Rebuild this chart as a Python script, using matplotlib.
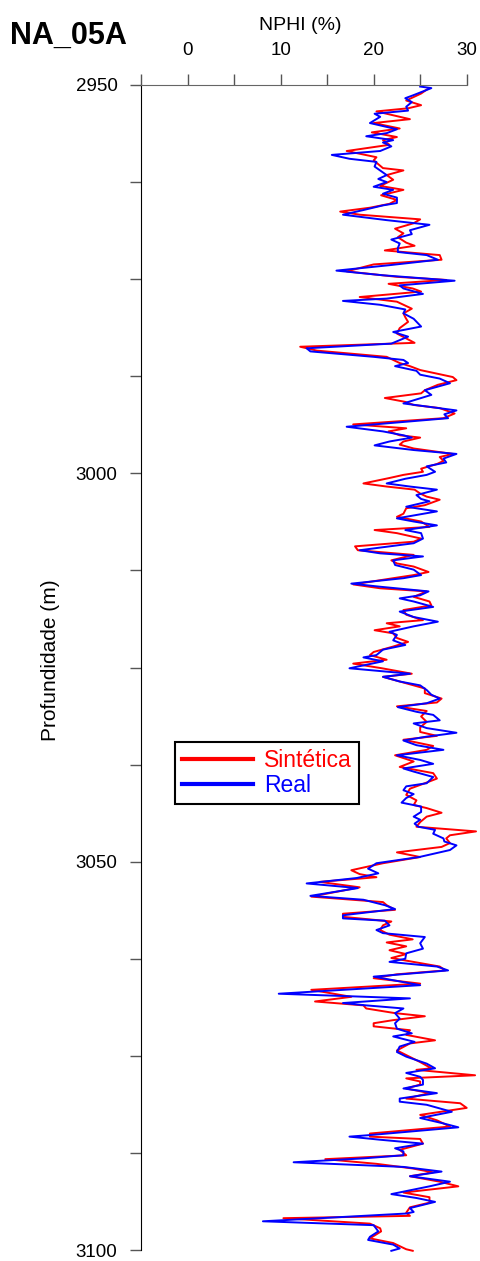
import numpy as np
import matplotlib.pyplot as plt

plt.rcParams['font.family'] = ['Liberation Sans', 'DejaVu Sans']

# (depth m, NPHI %) - measured log
real = np.array([
    (2950.2, 25.0), (2950.4, 26.2), (2951.3, 24.3), (2951.7, 23.4), (2952.2, 24.1),
    (2952.8, 23.5), (2953.3, 23.7), (2953.7, 20.1), (2954.1, 20.7), (2954.9, 19.6),
    (2955.7, 22.5), (2956.2, 21.4), (2956.6, 19.2), (2957.1, 22.1), (2957.4, 21.0),
    (2957.9, 21.9), (2958.5, 20.7), (2959.0, 15.5), (2959.5, 17.4), (2959.9, 20.3),
    (2960.5, 20.1), (2961.0, 20.7), (2961.6, 21.4), (2962.1, 20.5), (2962.5, 21.4),
    (2963.1, 20.0), (2963.5, 22.1), (2964.0, 21.0), (2964.5, 22.5), (2965.2, 22.5),
    (2965.5, 21.0), (2966.1, 18.9), (2966.7, 16.7), (2967.4, 21.4), (2968.0, 26.0),
    (2968.7, 23.9), (2969.2, 24.1), (2969.9, 21.9), (2970.4, 22.8), (2971.0, 22.6),
    (2971.5, 22.6), (2971.9, 25.7), (2972.5, 26.9), (2973.2, 21.7), (2973.9, 16.0),
    (2974.5, 21.0), (2975.2, 28.7), (2975.8, 22.8), (2976.2, 23.2), (2976.9, 25.3),
    (2977.5, 21.4), (2977.8, 16.7), (2978.3, 20.7), (2978.9, 23.4), (2979.4, 23.2),
    (2980.1, 24.3), (2981.1, 25.1), (2981.8, 22.1), (2982.4, 23.7), (2983.3, 21.9),
    (2983.9, 12.8), (2984.3, 13.2), (2985.0, 20.0), (2985.4, 23.2), (2985.8, 23.7),
    (2986.2, 22.3), (2986.8, 24.6), (2987.3, 25.0), (2987.8, 27.1),
    (2988.4, 28.2), (2989.3, 25.5), (2989.9, 26.2), (2990.3, 25.1), (2991.0, 23.2),
    (2991.9, 28.9), (2992.4, 27.6), (2992.9, 28.0), (2994.0, 17.1), (2994.6, 21.0),
    (2995.1, 23.2), (2995.4, 24.1), (2995.9, 21.7), (2996.4, 20.1), (2997.0, 24.3),
    (2997.5, 28.9), (2998.1, 27.5), (2998.6, 27.8), (2999.1, 25.7), (2999.8, 26.6),
    (3000.2, 25.7), (3000.7, 23.4), (3001.3, 21.4), (3001.7, 23.9), (3002.1, 26.8),
    (3002.8, 24.6), (3003.3, 25.1), (3003.6, 26.0), (3004.3, 23.5), (3004.9, 26.8),
    (3005.8, 22.5), (3006.2, 24.3), (3006.7, 26.8), (3007.3, 23.4), (3007.7, 25.1),
    (3008.4, 25.3), (3009.0, 24.3), (3009.9, 18.5), (3010.3, 20.7), (3010.7, 25.3),
    (3011.2, 22.1), (3011.8, 22.3), (3012.4, 24.3), (3013.1, 25.1), (3013.5, 23.2),
    (3014.2, 17.6), (3014.6, 20.7), (3015.2, 25.9), (3015.7, 25.0), (3016.1, 22.8),
    (3016.5, 24.3), (3017.2, 26.4), (3017.8, 22.8), (3018.5, 24.3), (3019.1, 26.9),
    (3019.7, 24.3), (3020.4, 21.7), (3020.8, 22.5), (3021.5, 22.1), (3022.1, 23.4),
    (3022.7, 21.0), (3023.4, 20.3), (3023.7, 18.9), (3024.2, 21.0), (3025.1, 17.4),
    (3025.8, 23.9),
    (3026.2, 21.0), (3026.8, 22.8), (3027.3, 25.0), (3027.9, 25.7), (3028.5, 26.2),
    (3029.0, 27.1), (3029.6, 25.7), (3030.1, 22.6), (3030.7, 24.6), (3031.1, 26.4),
    (3031.8, 27.1), (3032.2, 24.3), (3032.8, 25.7), (3033.4, 28.9), (3033.9, 25.7),
    (3034.4, 23.2), (3035.0, 24.6), (3035.6, 27.5), (3036.3, 22.5), (3036.9, 25.0),
    (3037.4, 26.4), (3038.0, 23.2), (3038.4, 24.3), (3039.1, 26.4), (3039.9, 25.7),
    (3040.3, 23.5), (3040.8, 23.2), (3041.3, 24.3), (3041.8, 23.5), (3042.4, 23.0),
    (3042.9, 25.1), (3043.6, 25.1), (3044.2, 24.3), (3044.6, 25.0), (3045.1, 24.4),
    (3045.5, 24.8), (3045.9, 26.6), (3046.4, 26.4), (3047.0, 27.5), (3047.4, 27.6),
    (3047.9, 28.9), (3048.5, 28.2),
    (3049.4, 24.9), (3050.2, 20.3), (3050.9, 19.4), (3051.5, 20.5), (3052.1, 18.2),
    (3052.8, 12.8), (3053.4, 18.3), (3054.4, 13.2), (3054.9, 18.9), (3055.6, 21.2),
    (3056.1, 22.3), (3056.9, 16.7), (3057.3, 16.7), (3057.6, 21.2), (3058.2, 21.7),
    (3058.8, 20.3), (3059.2, 21.0), (3059.7, 25.5), (3060.5, 25.0), (3061.2, 25.3),
    (3061.8, 23.5), (3062.5, 23.4), (3062.9, 21.7), (3063.5, 26.8), (3064.0, 28.0),
    (3064.8, 20.0), (3065.5, 23.2), (3065.9, 25.0), (3067.0, 9.8), (3067.6, 23.9),
    (3068.2, 16.7), (3068.5, 19.2), (3068.9, 23.2), (3069.5, 22.3), (3070.2, 22.8),
    (3070.8, 22.3), (3071.5, 22.5), (3072.1, 24.1), (3072.5, 22.1), (3073.2, 24.4),
    (3073.8, 22.8), (3074.5, 22.5), (3075.1, 23.5), (3076.0, 25.7), (3076.6, 26.6),
    (3077.2, 23.5), (3077.7, 25.0), (3078.1, 25.3), (3078.7, 25.3), (3079.2, 23.2),
    (3079.8, 26.8), (3080.5, 22.8), (3080.9, 22.8), (3081.3, 25.7), (3082.2, 28.4),
    (3083.0, 25.0), (3083.7, 27.5), (3084.2, 29.1), (3085.2, 19.6), (3085.4, 17.4),
    (3085.8, 20.7), (3086.3, 25.3), (3086.9, 22.3), (3087.3, 23.2), (3087.8, 23.2),
    (3088.2, 18.9), (3088.7, 11.4), (3089.3, 23.2), (3089.9, 27.3), (3090.5, 23.9),
    (3091.2, 28.2), (3091.8, 26.0), (3092.8, 21.9), (3093.3, 24.6), (3093.8, 26.6),
    (3094.6, 23.9), (3095.1, 24.3), (3095.3, 23.5), (3096.3, 8.1), (3096.8, 20.0),
    (3097.6, 20.5), (3098.3, 19.6), (3098.7, 19.4), (3099.3, 22.1), (3099.8, 22.8),
    (3100.1, 21.9),
])

# (depth m, NPHI %) - synthetic log
sintetica = np.array([
    (2950.6, 25.7), (2951.1, 25.1), (2952.0, 23.5), (2952.6, 25.1), (2953.0, 23.7),
    (2953.4, 20.3), (2954.4, 23.9), (2954.9, 20.0), (2955.6, 22.8), (2956.1, 19.8),
    (2956.7, 22.5), (2957.1, 21.0), (2957.7, 21.7), (2958.5, 17.1), (2959.3, 20.3),
    (2959.7, 20.0), (2960.7, 21.0), (2961.0, 23.2), (2961.6, 21.4), (2962.2, 22.1),
    (2963.0, 20.7), (2963.5, 23.2), (2964.2, 20.8), (2964.8, 22.5), (2965.3, 21.7),
    (2965.8, 19.6), (2966.3, 16.4), (2966.7, 18.5), (2967.3, 25.0), (2967.8, 24.3),
    (2968.5, 22.3), (2969.1, 23.2), (2969.6, 22.6), (2970.3, 23.5), (2970.7, 24.4),
    (2971.3, 21.2), (2971.9, 27.1), (2972.5, 27.3), (2973.1, 20.0), (2974.0, 17.1),
    (2974.7, 22.5), (2975.1, 27.8), (2975.6, 21.6), (2976.2, 24.2), (2976.6, 25.1),
    (2977.3, 18.5), (2977.9, 22.5), (2978.8, 24.1), (2979.4, 23.2), (2979.9, 23.4),
    (2980.5, 23.7), (2981.3, 22.8), (2982.0, 22.5), (2983.2, 24.4), (2983.7, 12.1),
    (2984.2, 13.9), (2985.0, 21.4), (2985.8, 22.8), (2986.2, 23.9), (2986.7, 25.0),
    (2987.6, 28.5),
    (2988.0, 28.9), (2988.6, 26.9), (2989.3, 25.5), (2989.7, 25.1), (2990.3, 21.2),
    (2990.8, 23.4), (2991.2, 24.3), (2991.6, 27.1), (2992.3, 28.7), (2992.9, 27.5),
    (2993.7, 17.8), (2994.2, 23.5), (2994.6, 21.6), (2995.1, 22.8), (2995.4, 25.0),
    (2995.9, 23.2), (2996.3, 22.8), (2996.8, 24.3), (2997.5, 28.5), (2997.9, 27.1),
    (2998.4, 27.5), (2998.8, 26.8), (2999.4, 25.1), (2999.8, 25.3), (3000.2, 23.2),
    (3000.6, 21.7), (3001.3, 18.9), (3001.7, 21.4), (3002.1, 24.4), (3002.6, 25.0),
    (3003.0, 25.7), (3003.4, 27.1), (3004.1, 25.5), (3004.5, 23.5), (3005.2, 23.2),
    (3005.6, 22.5), (3006.2, 25.1), (3006.9, 26.0), (3007.3, 20.1), (3007.7, 22.5),
    (3008.4, 25.1), (3008.8, 24.3), (3009.4, 18.0), (3009.9, 18.3), (3010.5, 24.3),
    (3011.2, 21.9), (3011.6, 22.5), (3012.0, 24.3), (3012.7, 25.9), (3013.1, 24.3),
    (3013.5, 22.1), (3014.3, 17.8), (3014.8, 20.7), (3015.2, 25.7), (3015.9, 24.3),
    (3016.5, 26.0), (3017.0, 26.2), (3017.6, 23.2), (3018.2, 23.5), (3018.9, 25.3),
    (3019.3, 21.4), (3019.7, 22.8), (3020.2, 20.1), (3020.6, 22.1), (3021.2, 22.5),
    (3021.7, 23.7), (3022.3, 22.1), (3023.0, 20.0), (3023.4, 19.6), (3024.0, 21.4),
    (3024.5, 17.8), (3025.1, 20.9), (3025.8, 24.1),
    (3026.2, 21.0), (3027.0, 23.4), (3027.7, 25.5), (3028.3, 25.5), (3029.0, 27.3),
    (3029.5, 26.8), (3030.0, 22.5), (3030.6, 25.7), (3031.3, 25.1), (3032.0, 25.7),
    (3032.7, 25.0), (3033.3, 25.0), (3033.8, 26.8), (3034.3, 23.2), (3035.1, 26.4),
    (3035.6, 25.7), (3036.3, 22.3), (3037.1, 24.3), (3037.8, 22.8), (3038.6, 26.4),
    (3039.3, 26.8), (3039.9, 25.5), (3040.6, 23.9), (3041.4, 23.5), (3042.1, 24.6),
    (3042.7, 24.3), (3043.1, 25.7), (3043.7, 27.3), (3044.2, 25.7), (3044.9, 25.0),
    (3045.5, 24.6), (3046.1, 31.0), (3046.6, 28.2), (3047.0, 27.8), (3047.6, 28.2),
    (3048.1, 27.3),
    (3048.8, 22.5), (3049.4, 25.0), (3050.2, 21.0), (3051.1, 17.6), (3051.6, 18.5),
    (3052.0, 20.3), (3052.6, 14.2), (3053.3, 18.5), (3054.5, 13.3), (3055.2, 21.0),
    (3055.6, 21.4), (3056.2, 22.3), (3056.7, 16.7), (3057.1, 16.7), (3057.7, 21.9),
    (3058.2, 21.0), (3058.8, 20.7), (3059.4, 21.7), (3060.0, 24.2), (3060.4, 21.4),
    (3060.9, 23.5), (3061.4, 21.7), (3061.9, 23.5), (3062.4, 21.9), (3063.5, 27.1),
    (3064.0, 27.7), (3064.5, 22.5), (3065.0, 20.0), (3065.7, 25.0), (3066.5, 13.3),
    (3067.4, 17.6), (3068.0, 13.7), (3068.5, 18.9), (3068.9, 19.2), (3069.5, 22.3),
    (3069.9, 25.5), (3070.4, 22.1), (3070.8, 20.0), (3071.2, 20.0), (3071.7, 23.9),
    (3072.3, 23.5), (3073.0, 26.6), (3073.4, 23.9), (3074.3, 22.5), (3074.9, 23.5),
    (3075.8, 25.0), (3076.6, 26.2),
    (3076.8, 24.6), (3077.5, 30.9), (3077.9, 23.5), (3078.3, 25.0), (3078.7, 25.0),
    (3079.2, 23.5), (3079.8, 26.0), (3080.5, 23.5), (3081.1, 29.3), (3081.7, 30.0),
    (3082.6, 25.0), (3083.3, 26.8), (3084.1, 28.2), (3085.0, 19.6), (3085.4, 19.6),
    (3085.7, 25.0), (3086.3, 25.3), (3087.1, 22.8), (3087.8, 23.5), (3088.3, 14.8),
    (3088.9, 20.3), (3089.5, 24.2), (3090.0, 26.4), (3090.5, 23.9), (3091.2, 27.1),
    (3091.8, 29.1), (3092.6, 23.2), (3093.2, 26.0), (3093.9, 26.0), (3094.5, 23.9),
    (3095.2, 23.5), (3095.6, 23.9), (3095.9, 10.3), (3096.6, 19.6), (3097.2, 20.7),
    (3097.6, 20.8), (3098.5, 19.6), (3099.1, 22.1), (3099.9, 23.5), (3100.1, 24.2),
])

nphi_major = [0, 10, 20, 30]
nphi_minor = [-5, 5, 15, 25]
depth_major = [2950, 3000, 3050, 3100]
depth_minor = [2962.5, 2975, 2987.5, 3012.5, 3025, 3037.5, 3062.5, 3075, 3087.5]

fig = plt.figure(figsize=(4.8, 12.61), dpi=100)
ax = fig.add_axes([0.2938, 0.0087, 0.6785, 0.9239])

ax.plot(sintetica[:, 1], sintetica[:, 0], color='#ff0000', lw=1.4,
        label='Sintética', clip_on=False)
ax.plot(real[:, 1], real[:, 0], color='#0000ff', lw=1.4,
        label='Real', clip_on=False)

ax.set_xlim(-5, 30)
ax.set_ylim(3100, 2950)

ax.xaxis.tick_top()
ax.set_xticks(nphi_major)
ax.set_xticks(nphi_minor, minor=True)
ax.set_yticks(depth_major)
ax.set_yticks(depth_minor, minor=True)

ax.tick_params(which='both', direction='out', length=8, width=1, color='#555555')
ax.tick_params(axis='x', which='both', top=True, bottom=False,
               labeltop=True, labelbottom=False, labelsize=13.5, pad=11)
ax.tick_params(axis='y', which='both', labelsize=13.5, pad=9)

ax.spines['right'].set_visible(False)
ax.spines['bottom'].set_visible(False)
ax.spines['top'].set_color('#666666')
ax.spines['left'].set_color('black')

fig.text(300 / 480, 1 - 25 / 1261, 'NPHI (%)', fontsize=14,
         ha='center', va='center')
fig.text(51 / 480, 1 - 660 / 1261, 'Profundidade (m)', fontsize=15,
         rotation=90, ha='center', va='center')
fig.text(10 / 480, 1 - 36 / 1261, 'NA_05A', fontsize=22, fontweight='bold',
         ha='left', va='center')

leg = ax.legend(loc='upper left', bbox_to_anchor=(175 / 480, 1 - 742 / 1261),
                bbox_transform=fig.transFigure, fontsize=16.5, frameon=True,
                fancybox=False, edgecolor='black', framealpha=1,
                handlelength=3.1, handletextpad=0.5, labelspacing=0.08,
                borderpad=0.3, borderaxespad=0)
leg.get_frame().set_linewidth(1.5)
for txt, line in zip(leg.get_texts(), leg.get_lines()):
    line.set_linewidth(3)
    txt.set_color(line.get_color())

fig.savefig('out.png', dpi=100)
